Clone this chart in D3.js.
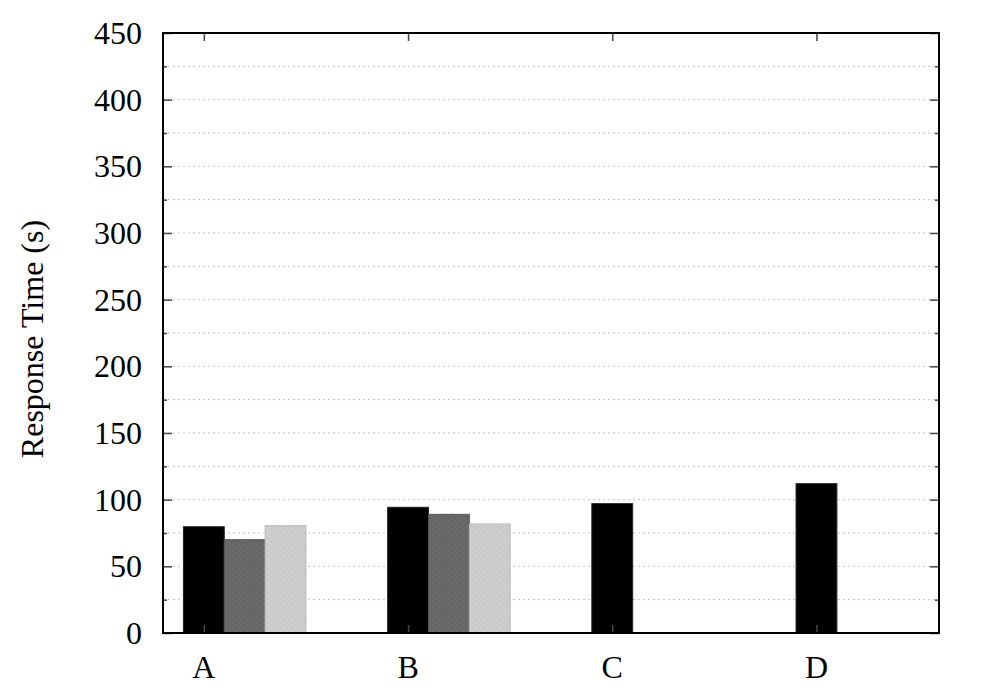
<!DOCTYPE html>
<html>
<head>
<meta charset="utf-8">
<script src="https://cdn.jsdelivr.net/npm/d3@7"></script>
<style>
  html, body { margin: 0; padding: 0; background: #fff; }
  svg { display: block; }
  text { font-family: "Liberation Serif", "DejaVu Serif", serif; fill: #000; }
</style>
</head>
<body>
<svg id="chart" width="1000" height="700"></svg>
<script>
// ---- data ----
const categories = ["A", "B", "C", "D"];
const series1 = [79.7, 94.3, 97.0, 112.0];
const series2 = [70.0, 89.0, null, null];
const series3 = [80.5, 81.8, null, null];
const yTicks = [0, 50, 100, 150, 200, 250, 300, 350, 400, 450];
const yMinorTicks = [25, 75, 125, 175, 225, 275, 325, 375, 425];
const yLabel = "Response Time (s)";

// ---- layout ----
const svg = d3.select("#chart");
const mLeft = 163, mRight = 939, mTop = 33, mBottom = 633;

const x = d3.scaleLinear().domain([-0.2, 3.6]).range([mLeft, mRight]);
const y = d3.scaleLinear().domain([0, 450]).range([mBottom, mTop]);
const barW = 0.2;

// patterns
const defs = svg.append("defs");
function dotPattern(id, bg, dot) {
  const p = defs.append("pattern").attr("id", id).attr("patternUnits", "userSpaceOnUse")
    .attr("width", 6).attr("height", 6);
  p.append("rect").attr("width", 6).attr("height", 6).attr("fill", bg);
  p.append("rect").attr("x", 1).attr("y", 1).attr("width", 1).attr("height", 1).attr("fill", dot);
  p.append("rect").attr("x", 4).attr("y", 4).attr("width", 1).attr("height", 1).attr("fill", dot);
}
dotPattern("pGray", "#666666", "#7a7a7a");
dotPattern("pLight", "#cdcdcd", "#bababa");

// gridlines
const gridVals = yTicks.concat(yMinorTicks).filter(v => v > 0 && v < 450);
svg.append("g").selectAll("line").data(gridVals).join("line")
  .attr("x1", mLeft).attr("x2", mRight)
  .attr("y1", d => y(d)).attr("y2", d => y(d))
  .attr("stroke", "#c4c4c4").attr("stroke-width", 1)
  .attr("stroke-dasharray", "2,3");

// bars
const seriesList = [
  { vals: series1, fill: "#000000", stroke: "#222" },
  { vals: series2, fill: "url(#pGray)", stroke: "#555" },
  { vals: series3, fill: "url(#pLight)", stroke: "#bbb" }
];
const barsG = svg.append("g");
seriesList.forEach((s, j) => {
  const data = s.vals.map((v, i) => ({ v, i })).filter(d => d.v != null);
  barsG.append("g").selectAll("rect").data(data).join("rect")
    .attr("x", d => x(d.i + j * barW - barW / 2))
    .attr("width", d => x(barW) - x(0))
    .attr("y", d => y(d.v))
    .attr("height", d => y(0) - y(d.v))
    .attr("fill", s.fill)
    .attr("stroke", s.stroke).attr("stroke-width", 1);
});

// axes ticks (inward, mirrored)
const tickColor = "#444";
const yAxisL = d3.axisRight(y).tickValues(yTicks).tickSize(9).tickFormat("");
const yAxisR = d3.axisLeft(y).tickValues(yTicks).tickSize(9).tickFormat("");
const yMinL = d3.axisRight(y).tickValues(yMinorTicks).tickSize(4).tickFormat("");
const yMinR = d3.axisLeft(y).tickValues(yMinorTicks).tickSize(4).tickFormat("");
[[yAxisL, mLeft], [yMinL, mLeft], [yAxisR, mRight], [yMinR, mRight]].forEach(([ax, px]) => {
  const g = svg.append("g").attr("transform", `translate(${px},0)`).call(ax);
  g.select(".domain").remove();
  g.selectAll("line").attr("stroke", tickColor).attr("stroke-width", 1.5);
});

const xIdx = categories.map((c, i) => i);
const xAxisTop = d3.axisBottom(x).tickValues(xIdx).tickSize(8).tickFormat("");
const xAxisBot = d3.axisTop(x).tickValues(xIdx).tickSize(8).tickFormat("");
[[xAxisTop, mTop], [xAxisBot, mBottom]].forEach(([ax, py]) => {
  const g = svg.append("g").attr("transform", `translate(0,${py})`).call(ax);
  g.select(".domain").remove();
  g.selectAll("line").attr("stroke", tickColor).attr("stroke-width", 1.5);
});

// frame
svg.append("rect").attr("x", mLeft).attr("y", mTop)
  .attr("width", mRight - mLeft).attr("height", mBottom - mTop)
  .attr("fill", "none").attr("stroke", "#000").attr("stroke-width", 2);

// y tick labels
svg.append("g").selectAll("text").data(yTicks).join("text")
  .attr("x", 142).attr("y", d => y(d))
  .attr("dy", "0.34em")
  .attr("text-anchor", "end")
  .attr("font-size", 32)
  .text(d => d);

// x labels
svg.append("g").selectAll("text").data(categories).join("text")
  .attr("x", (d, i) => x(i)).attr("y", 678)
  .attr("text-anchor", "middle")
  .attr("font-size", 32)
  .text(d => d);

// y label
svg.append("text")
  .attr("transform", "translate(43,339) rotate(-90)")
  .attr("text-anchor", "middle")
  .attr("font-size", 32)
  .text(yLabel);
</script>
</body>
</html>
